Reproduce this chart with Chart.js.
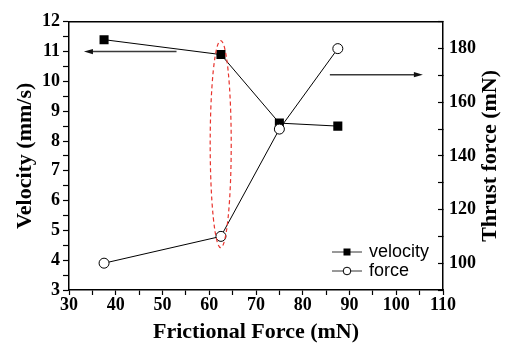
<!DOCTYPE html>
<html><head><meta charset="utf-8">
<script src="https://cdn.jsdelivr.net/npm/chart.js@4/dist/chart.umd.min.js"></script>
<style>html,body{margin:0;padding:0;background:#fff}#wrap{width:505px;height:348px}</style>
</head><body><div id="wrap"><canvas id="c" width="505" height="348"></canvas></div>
<script>
// ---- data ----
const frictionalForce = [37.5, 62.5, 75, 87.5];
const velocity = [11.4, 10.9, 8.6, 8.5];
const thrustForce = [100, 110, 150, 180];
const seriesLabels = ['velocity', 'force'];
const xTickLabels = [30, 40, 50, 60, 70, 80, 90, 100, 110];
const velocityTickLabels = [3, 4, 5, 6, 7, 8, 9, 10, 11, 12];
const forceTickLabels = [100, 120, 140, 160, 180];
const axisTitles = ['Frictional Force (mN)', 'Velocity (mm/s)', 'Thrust force (mN)'];

// annotation anchors (data units)
const leftArrow = {x1: 53, x2: 33.2, v: 11};
const rightArrow = {x1: 85.8, x2: 105.7, f: 170.3};
const ellipseBox = {xMin: 60.2, xMax: 64.7, vMin: 4.42, vMax: 11.37};

const SERIF = '"Liberation Serif", "Times New Roman", serif';
const SANS = '"Liberation Sans", Arial, sans-serif';
Chart.defaults.color = '#000';

function arrow(ctx, x1, y1, x2, y2) {
  const dir = Math.sign(x2 - x1);
  ctx.strokeStyle = '#3a3a3a';
  ctx.lineWidth = 1.5;
  ctx.beginPath(); ctx.moveTo(x1, y1); ctx.lineTo(x2 - dir * 6, y2); ctx.stroke();
  ctx.fillStyle = '#111';
  ctx.beginPath();
  ctx.moveTo(x2, y2);
  ctx.lineTo(x2 - dir * 9, y2 - 2.6);
  ctx.lineTo(x2 - dir * 9, y2 + 2.6);
  ctx.closePath(); ctx.fill();
}

const decor = {
  id: 'decor',
  afterDatasetsDraw(chart) {
    const ctx = chart.ctx, a = chart.chartArea;
    const sx = chart.scales.x, sv = chart.scales.yV, sf = chart.scales.yF;
    ctx.save();
    // top frame line
    ctx.strokeStyle = '#000'; ctx.lineWidth = 1.5;
    ctx.beginPath(); ctx.moveTo(a.left, a.top); ctx.lineTo(a.right, a.top); ctx.stroke();
    // arrows
    arrow(ctx, sx.getPixelForValue(leftArrow.x1), sv.getPixelForValue(leftArrow.v),
               sx.getPixelForValue(leftArrow.x2), sv.getPixelForValue(leftArrow.v));
    arrow(ctx, sx.getPixelForValue(rightArrow.x1), sf.getPixelForValue(rightArrow.f),
               sx.getPixelForValue(rightArrow.x2), sf.getPixelForValue(rightArrow.f));
    // dashed red ellipse
    const ex1 = sx.getPixelForValue(ellipseBox.xMin), ex2 = sx.getPixelForValue(ellipseBox.xMax);
    const ey1 = sv.getPixelForValue(ellipseBox.vMax), ey2 = sv.getPixelForValue(ellipseBox.vMin);
    ctx.strokeStyle = '#e8332d'; ctx.lineWidth = 1.2; ctx.setLineDash([4, 3]);
    ctx.beginPath();
    ctx.ellipse((ex1 + ex2) / 2, (ey1 + ey2) / 2, (ex2 - ex1) / 2, (ey2 - ey1) / 2, 0, 0, Math.PI * 2);
    ctx.stroke();
    ctx.setLineDash([]);
    // legend
    const lx = 332, tx = 369, rows = [252, 271];
    chart.data.datasets.forEach((ds, i) => {
      const y = rows[i];
      ctx.strokeStyle = '#333'; ctx.lineWidth = 1;
      ctx.beginPath(); ctx.moveTo(lx, y); ctx.lineTo(lx + 30, y); ctx.stroke();
      ctx.lineWidth = 1;
      if (ds.pointStyle === 'rect') {
        ctx.fillStyle = '#000'; ctx.fillRect(lx + 15 - 3.5, y - 3.5, 7, 7);
      } else {
        ctx.fillStyle = '#fff'; ctx.strokeStyle = '#000';
        ctx.beginPath(); ctx.arc(lx + 15, y, 3.8, 0, Math.PI * 2); ctx.fill(); ctx.stroke();
      }
      ctx.fillStyle = '#000';
      ctx.font = '18px ' + SANS; ctx.textAlign = 'left'; ctx.textBaseline = 'middle';
      ctx.fillText(ds.label, tx, y);
    });
    // right axis title (reads bottom-to-top)
    ctx.translate(490, (a.top + a.bottom) / 2);
    ctx.rotate(-Math.PI / 2);
    ctx.font = 'bold 22px ' + SERIF; ctx.textAlign = 'center'; ctx.textBaseline = 'middle';
    ctx.fillStyle = '#000';
    ctx.fillText(axisTitles[2], 0, 0);
    ctx.restore();
  }
};

const tickFont = {family: SERIF, size: 18, weight: 'bold'};
const titleFont = {family: SERIF, size: 22, weight: 'bold'};

new Chart(document.getElementById('c'), {
  type: 'scatter',
  data: {
    datasets: [
      {
        label: seriesLabels[0],
        data: frictionalForce.map((x, i) => ({x, y: velocity[i]})),
        yAxisID: 'yV', showLine: true, order: 1,
        borderColor: '#000', borderWidth: 1,
        pointStyle: 'rect', pointRadius: 6.4, pointHoverRadius: 6.4,
        pointBackgroundColor: '#000', pointBorderColor: '#000', pointBorderWidth: 0
      },
      {
        label: seriesLabels[1],
        data: frictionalForce.map((x, i) => ({x, y: thrustForce[i]})),
        yAxisID: 'yF', showLine: true, order: 0,
        borderColor: '#000', borderWidth: 1,
        pointStyle: 'circle', pointRadius: 5, pointHoverRadius: 5,
        pointBackgroundColor: '#fff', pointBorderColor: '#000', pointBorderWidth: 1
      }
    ]
  },
  options: {
    responsive: false, animation: false,
    layout: {padding: {top: 14, left: 0, right: 0, bottom: 0}},
    plugins: {legend: {display: false}, tooltip: {enabled: false}},
    scales: {
      x: {
        type: 'linear', position: 'bottom', min: 30, max: 110,
        afterFit: s => { s.height = 58; },
        border: {color: '#000', width: 1.5},
        grid: {drawOnChartArea: false, tickLength: 5, tickColor: '#000', tickWidth: 1.2},
        ticks: {stepSize: 5, autoSkip: false, maxRotation: 0, padding: 0, font: tickFont,
          callback: v => xTickLabels.includes(v) ? String(v) : ''},
        title: {display: true, text: axisTitles[0], font: titleFont, padding: {top: 0, bottom: 2}}
      },
      yV: {
        type: 'linear', position: 'left', min: 3, max: 12,
        afterFit: s => { s.width = 69; },
        border: {color: '#000', width: 1.5},
        grid: {drawOnChartArea: false, tickLength: 6, tickColor: '#000', tickWidth: 1.2},
        ticks: {stepSize: 0.5, autoSkip: false, padding: 3, font: tickFont,
          callback: v => velocityTickLabels.includes(v) ? String(v) : ''},
        title: {display: true, text: axisTitles[1], font: titleFont, padding: {top: 12, bottom: 0}}
      },
      yF: {
        type: 'linear', position: 'right', min: 90, max: 190,
        afterFit: s => { s.width = 62; },
        border: {color: '#000', width: 1.5},
        grid: {drawOnChartArea: false, tickLength: -5, tickColor: '#000', tickWidth: 1.2},
        ticks: {stepSize: 10, autoSkip: false, padding: 11, font: tickFont,
          callback: v => forceTickLabels.includes(v) ? String(v) : ''},
        title: {display: false}
      }
    }
  },
  plugins: [decor]
});
</script>
</body></html>
